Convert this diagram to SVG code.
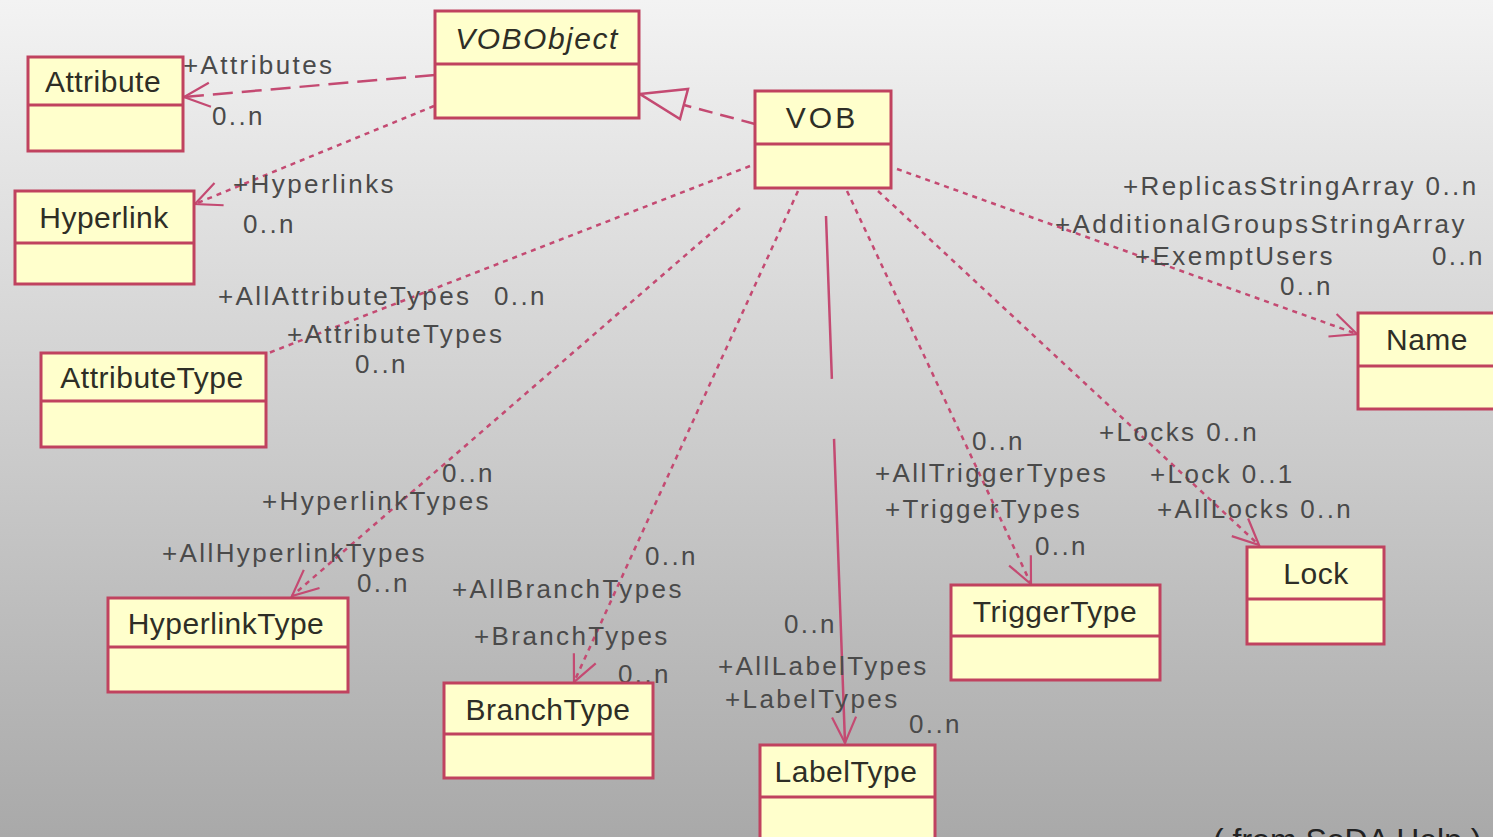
<svg xmlns="http://www.w3.org/2000/svg" width="1493" height="837" viewBox="0 0 1493 837">
<defs>
<linearGradient id="bg" x1="0" y1="0" x2="0" y2="1">
<stop offset="0" stop-color="#F3F3F3"/>
<stop offset="1" stop-color="#A9A9A9"/>
</linearGradient>
<marker id="arr" markerUnits="userSpaceOnUse" viewBox="-30 -16 34 32" refX="0" refY="0" markerWidth="34" markerHeight="32" orient="auto" overflow="visible">
<path d="M-26,-12 L0,0 L-26,12" fill="none" stroke="#C44A72" stroke-width="2.2"/>
</marker>
<style>
.box{fill:#FFFFCC;stroke:#C0425F;stroke-width:3}
.sep{stroke:#C0425F;stroke-width:3}
.title{font-family:"Liberation Sans",Arial,sans-serif;font-size:30px;fill:#2E2E26;text-anchor:middle;letter-spacing:0.5px}
.lbl{font-family:"Liberation Sans",Arial,sans-serif;font-size:26px;fill:#4A4A4A;letter-spacing:2.4px}
.cap{font-family:"Liberation Sans",Arial,sans-serif;font-size:32px;fill:#222}
.ln{fill:none;stroke:#C44A72;stroke-width:2.5}
.dot{stroke-dasharray:5 5}
.dash{stroke-dasharray:20 9}
</style>
</defs>
<rect x="0" y="0" width="1493" height="837" fill="url(#bg)"/>

<g id="connectors">
<line id="c-attr" class="ln dash" x1="435" y1="75" x2="184" y2="97" marker-end="url(#arr)"/>
<line id="c-hyper" class="ln dot" x1="434" y1="106" x2="195" y2="204" marker-end="url(#arr)"/>
<line id="c-gen" class="ln" style="stroke-dasharray:14 8" x1="755" y1="124" x2="684" y2="105"/>
<polygon id="c-gen-head" points="640,94 688,89 680,119" fill="none" stroke="#C44A72" stroke-width="2.5"/>
<line id="c-attrtype" class="ln dot" x1="750" y1="166" x2="266" y2="354"/>
<line id="c-hltype" class="ln dot" x1="740" y1="208" x2="292" y2="596" marker-end="url(#arr)"/>
<line id="c-branch" class="ln dot" x1="798" y1="191" x2="574" y2="682" marker-end="url(#arr)"/>
<line id="c-label" class="ln" style="stroke-dasharray:163 60 600" x1="826" y1="216" x2="845" y2="743" marker-end="url(#arr)"/>
<line id="c-trigger" class="ln dot" x1="847" y1="191" x2="1031" y2="584" marker-end="url(#arr)"/>
<line id="c-lock" class="ln dot" x1="878" y1="191" x2="1259" y2="545" marker-end="url(#arr)"/>
<line id="c-name" class="ln dot" x1="897" y1="169" x2="1357" y2="334" marker-end="url(#arr)"/>
</g>

<g id="labels">
<text class="lbl" x="183" y="74">+Attributes</text>
<text class="lbl" x="212" y="125">0..n</text>
<text class="lbl" x="233" y="193">+Hyperlinks</text>
<text class="lbl" x="243" y="233">0..n</text>
<text class="lbl" x="218" y="305">+AllAttributeTypes</text>
<text class="lbl" x="494" y="305">0..n</text>
<text class="lbl" x="287" y="343">+AttributeTypes</text>
<text class="lbl" x="355" y="373">0..n</text>
<text class="lbl" x="442" y="482">0..n</text>
<text class="lbl" x="262" y="510">+HyperlinkTypes</text>
<text class="lbl" x="162" y="562">+AllHyperlinkTypes</text>
<text class="lbl" x="357" y="592">0..n</text>
<text class="lbl" x="645" y="565">0..n</text>
<text class="lbl" x="452" y="598">+AllBranchTypes</text>
<text class="lbl" x="474" y="645">+BranchTypes</text>
<text class="lbl" x="618" y="683">0..n</text>
<text class="lbl" x="784" y="633">0..n</text>
<text class="lbl" x="718" y="675">+AllLabelTypes</text>
<text class="lbl" x="725" y="708">+LabelTypes</text>
<text class="lbl" x="909" y="733">0..n</text>
<text class="lbl" x="972" y="450">0..n</text>
<text class="lbl" x="875" y="482">+AllTriggerTypes</text>
<text class="lbl" x="885" y="518">+TriggerTypes</text>
<text class="lbl" x="1035" y="555">0..n</text>
<text class="lbl" x="1099" y="441">+Locks  0..n</text>
<text class="lbl" x="1150" y="483">+Lock  0..1</text>
<text class="lbl" x="1157" y="518">+AllLocks 0..n</text>
<text class="lbl" x="1123" y="195">+ReplicasStringArray  0..n</text>
<text class="lbl" x="1055" y="233">+AdditionalGroupsStringArray</text>
<text class="lbl" x="1135" y="265">+ExemptUsers</text>
<text class="lbl" x="1432" y="265">0..n</text>
<text class="lbl" x="1280" y="295">0..n</text>
</g>

<g id="VOBObject">
<rect class="box" x="435" y="11" width="204" height="107"/>
<line class="sep" x1="435" y1="64" x2="639" y2="64"/>
<text class="title" x="537" y="49" font-style="italic" style="letter-spacing:1.5px">VOBObject</text>
</g>
<g id="VOB">
<rect class="box" x="755" y="91" width="136" height="97"/>
<line class="sep" x1="755" y1="144" x2="891" y2="144"/>
<text class="title" x="822" y="128" style="letter-spacing:3px">VOB</text>
</g>
<g id="Attribute">
<rect class="box" x="28" y="57" width="155" height="94"/>
<line class="sep" x1="28" y1="105" x2="183" y2="105"/>
<text class="title" x="103" y="92">Attribute</text>
</g>
<g id="Hyperlink">
<rect class="box" x="15" y="191" width="179" height="93"/>
<line class="sep" x1="15" y1="243" x2="194" y2="243"/>
<text class="title" x="104" y="228">Hyperlink</text>
</g>
<g id="AttributeType">
<rect class="box" x="41" y="353" width="225" height="94"/>
<line class="sep" x1="41" y1="401" x2="266" y2="401"/>
<text class="title" x="152" y="388">AttributeType</text>
</g>
<g id="Name">
<rect class="box" x="1358" y="313" width="150" height="96"/>
<line class="sep" x1="1358" y1="366" x2="1508" y2="366"/>
<text class="title" x="1427" y="350">Name</text>
</g>
<g id="HyperlinkType">
<rect class="box" x="108" y="598" width="240" height="94"/>
<line class="sep" x1="108" y1="647" x2="348" y2="647"/>
<text class="title" x="226" y="634">HyperlinkType</text>
</g>
<g id="BranchType">
<rect class="box" x="444" y="683" width="209" height="95"/>
<line class="sep" x1="444" y1="734" x2="653" y2="734"/>
<text class="title" x="548" y="720">BranchType</text>
</g>
<g id="LabelType">
<rect class="box" x="760" y="745" width="175" height="110"/>
<line class="sep" x1="760" y1="797" x2="935" y2="797"/>
<text class="title" x="846" y="782">LabelType</text>
</g>
<g id="TriggerType">
<rect class="box" x="951" y="585" width="209" height="95"/>
<line class="sep" x1="951" y1="636" x2="1160" y2="636"/>
<text class="title" x="1055" y="622">TriggerType</text>
</g>
<g id="Lock">
<rect class="box" x="1247" y="547" width="137" height="97"/>
<line class="sep" x1="1247" y1="599" x2="1384" y2="599"/>
<text class="title" x="1316" y="584">Lock</text>
</g>

<text class="cap" x="1213" y="851">( from SoDA Help )</text>
</svg>
